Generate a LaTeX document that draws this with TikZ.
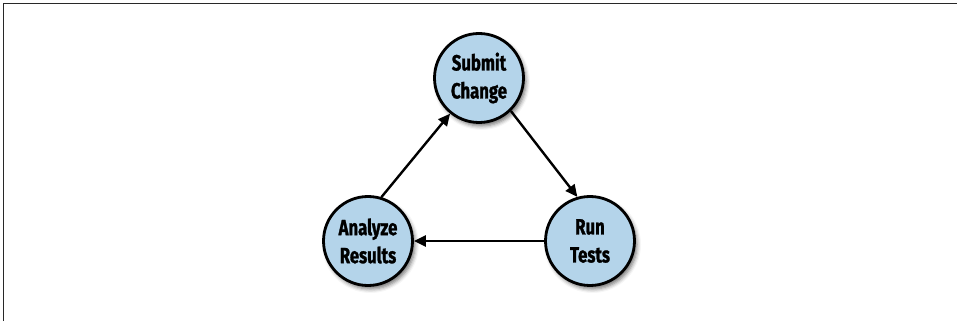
\documentclass[tikz,border=0pt]{standalone}
\usepackage{fontspec}
\newfontfamily\labfont[FakeStretch=0.76,FakeBold=1.2]{Fira Sans}
\usetikzlibrary{arrows.meta,shadows.blur}
\definecolor{stepblue}{RGB}{180,212,234}
\definecolor{framegray}{RGB}{40,40,40}
\tikzset{
  stepcircle/.style={circle, draw=black, line width=2.8pt, fill=stepblue,
    minimum size=89pt, inner sep=0pt, align=center,
    font=\labfont\bfseries\fontsize{22}{28}\selectfont,
    blur shadow={shadow xshift=2.5pt, shadow yshift=-3.5pt, shadow blur radius=4pt, shadow opacity=55}},
  flow/.style={line width=2.4pt, -{Triangle[length=12pt,width=11pt]}}
}
\begin{document}
\begin{tikzpicture}[x=1pt,y=1pt]
\useasboundingbox (0,0) rectangle (957,321);
\draw[framegray, line width=1.4pt] (3.4,0) -- (3.4,317.6) -- (957,317.6);
\node[stepcircle] (s) at (479,243) {Submit\\Change};
\node[stepcircle] (a) at (368,80) {Analyze\\Results};
\node[stepcircle] (r) at (590,80) {Run\\Tests};
\draw[flow] (a.73) -- (s.231);
\draw[flow] (s.-46) -- (r.106);
\draw[flow] (r.180) -- (a.0);
\end{tikzpicture}
\end{document}
